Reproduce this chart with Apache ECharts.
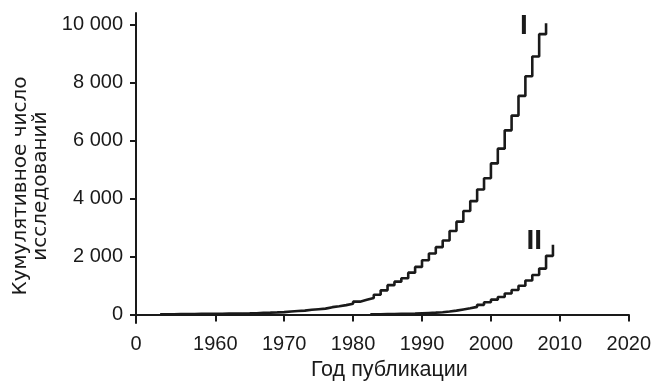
<!DOCTYPE html>
<html>
<head>
<meta charset="utf-8">
<script src="https://cdn.jsdelivr.net/npm/echarts@6/dist/echarts.min.js"></script>
<style>html,body{margin:0;padding:0;background:#fff}#c{width:654px;height:386px}</style>
</head>
<body>
<div id="c"></div>
<script>
// Series I: year of each step and cumulative count after that step
const yearsI = [1952,1953,1954,1955,1956,1957,1958,1959,1960,1961,1962,1963,1964,1965,1966,1967,1968,1969,1970,1971,1972,1973,1974,1975,1976,1977,1978,1979,1980,1981,1982,1983,1984,1985,1986,1987,1988,1989,1990,1991,1992,1993,1994,1995,1996,1997,1998,1999,2000,2001,2002,2003,2004,2005,2006,2007,2008];
const valuesI = [0,5,10,12,15,18,20,22,25,28,30,33,36,40,55,62,70,80,100,115,130,160,180,200,250,280,320,370,440,505,570,680,830,1010,1130,1250,1440,1640,1870,2100,2320,2550,2880,3200,3570,3910,4310,4700,5210,5720,6350,6860,7540,8220,8900,9670,10050];
// Series II
const yearsII = [1982.5,1983,1984,1985,1986,1987,1988,1989,1990,1991,1992,1993,1994,1995,1996,1997,1998,1999,2000,2001,2002,2003,2004,2005,2006,2007,2008,2009];
const valuesII = [0,5,10,15,20,25,30,40,50,60,75,100,130,170,210,260,330,420,510,600,720,840,990,1170,1360,1580,2020,2400];
// Axis tick labels
const xTicks = [1948.5,1960,1970,1980,1990,2000,2010,2020];
const yTicks = [0,2000,4000,6000,8000,10000];
const seriesLabels = ['I','II'];
const labelPos = [[2004.8, 9940],[2006.3, 2530]];

const pair = (xs, vs) => xs.map((x, i) => [x, vs[i]]);
const fmtY = v => String(v).replace(/\B(?=(\d{3})+(?!\d))/g, ' ');
const font = 'Liberation Sans, Arial, sans-serif';
const ink = '#1a1a1a';

const chart = echarts.init(document.getElementById('c'));
const mkSeries = (xs, vs, lab, pos) => ({
  type: 'line', step: 'end', showSymbol: false, animation: false,
  data: pair(xs, vs),
  lineStyle: { color: ink, width: 2.6 },
  markPoint: {
    symbol: 'circle', symbolSize: 0, animation: false,
    label: { show: true, formatter: lab, color: ink, fontSize: 28, fontWeight: 'bold', fontFamily: font, position: 'inside' },
    data: [{ coord: pos }]
  }
});

chart.setOption({
  animation: false,
  grid: { left: 136, right: 22.5, top: 13, bottom: 59, containLabel: false },
  xAxis: {
    type: 'value', min: 1948.5, max: 2020,
    name: 'Год публикации', nameLocation: 'middle', nameGap: 35,
    nameTextStyle: { fontSize: 21.5, color: ink, fontFamily: font, padding: [0, 0, 0, 14] },
    axisLine: { lineStyle: { color: ink, width: 2 } },
    axisTick: { show: true, length: 7, lineStyle: { color: ink, width: 2 }, customValues: xTicks },
    axisLabel: { customValues: xTicks, formatter: v => (v < 1950 ? '0' : String(v)), fontSize: 20, color: ink, fontFamily: font, margin: 11 },
    splitLine: { show: false }
  },
  yAxis: {
    type: 'value', min: -300, max: 10400,
    name: 'Кумулятивное число\nисследований', nameLocation: 'middle', nameGap: 82, nameRotate: 90,
    nameTextStyle: { fontSize: 20, color: ink, fontFamily: 'DejaVu Sans, sans-serif', lineHeight: 20, padding: [0, 36, 0, 0] },
    axisLine: { show: true, lineStyle: { color: ink, width: 2 } },
    axisTick: { show: true, length: 6, lineStyle: { color: ink, width: 2 }, customValues: yTicks },
    axisLabel: { customValues: yTicks, formatter: fmtY, fontSize: 20, color: ink, fontFamily: font, margin: 13 },
    splitLine: { show: false }
  },
  series: [
    mkSeries(yearsI, valuesI, seriesLabels[0], labelPos[0]),
    mkSeries(yearsII, valuesII, seriesLabels[1], labelPos[1])
  ]
});
</script>
</body>
</html>
